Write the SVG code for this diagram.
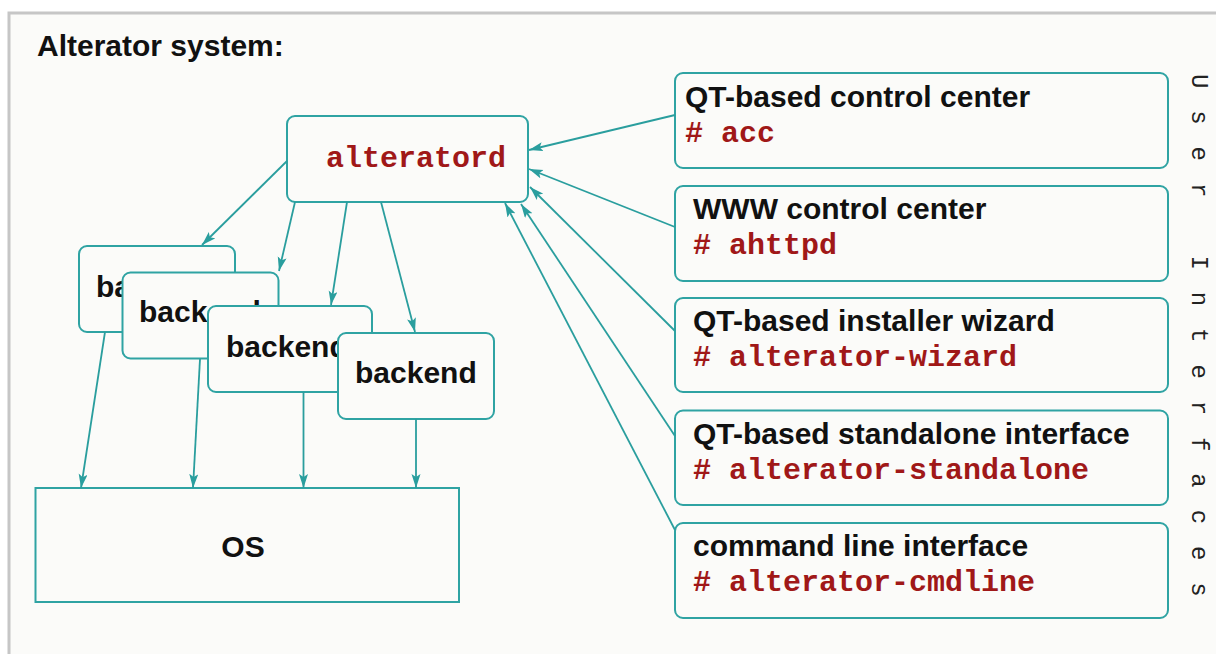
<svg xmlns="http://www.w3.org/2000/svg" width="1216" height="654" viewBox="0 0 1216 654">
<defs>
<style>
.box{fill:#fbfbf9;stroke:#2fa3a3;stroke-width:2}
.lbl{font-family:"Liberation Sans",Arial,sans-serif;font-weight:bold;font-size:30px;fill:#111}
.cmd{font-family:"Liberation Mono","Courier New",monospace;font-weight:bold;font-size:30px;fill:#a01818}
.conn{stroke:#2a9e9e;stroke-width:1.8;fill:none;marker-end:url(#ah)}
</style>
<marker id="ah" markerUnits="userSpaceOnUse" markerWidth="15" markerHeight="10" refX="14" refY="4.5" orient="auto">
<path d="M0,0 L14,4.5 L0,9 L3,4.5 z" fill="#2a9e9e"/>
</marker>
</defs>
<rect x="0" y="0" width="1216" height="654" fill="#ffffff"/>
<rect x="9" y="13" width="1240" height="700" fill="#fbfbf9" stroke="#c6c6c6" stroke-width="3"/>
<text x="37" y="56" class="lbl">Alterator system:</text>

<g id="alteratord">
<rect class="box" x="287" y="116" width="241" height="86" rx="8"/>
<text x="326" y="167" class="cmd">alteratord</text>
</g>
<g id="backend1">
<rect class="box" x="79" y="246" width="156" height="86" rx="8"/>
<text x="96" y="297" class="lbl">backend</text>
</g>
<g id="backend2">
<rect class="box" x="122.5" y="272.5" width="156" height="86" rx="8"/>
<text x="139" y="322" class="lbl">backend</text>
</g>
<g id="backend3">
<rect class="box" x="208" y="306" width="164" height="86" rx="8"/>
<text x="226" y="357" class="lbl">backend</text>
</g>
<g id="backend4">
<rect class="box" x="338" y="333" width="156" height="86" rx="8"/>
<text x="355" y="383" class="lbl">backend</text>
</g>
<g id="os">
<rect class="box" x="35.5" y="488" width="423.5" height="114"/>
<text x="243" y="557" class="lbl" text-anchor="middle">OS</text>
</g>

<g id="ui-acc">
<rect class="box" x="675" y="73" width="493" height="95" rx="8"/>
<text x="685" y="107" class="lbl">QT-based control center</text>
<text x="685" y="142" class="cmd"># acc</text>
</g>
<g id="ui-ahttpd">
<rect class="box" x="675" y="186" width="493" height="95" rx="8"/>
<text x="693" y="219" class="lbl">WWW control center</text>
<text x="693" y="254" class="cmd"># ahttpd</text>
</g>
<g id="ui-wizard">
<rect class="box" x="675" y="298" width="493" height="94" rx="8"/>
<text x="693" y="331" class="lbl">QT-based installer wizard</text>
<text x="693" y="366" class="cmd"># alterator-wizard</text>
</g>
<g id="ui-standalone">
<rect class="box" x="675" y="410.5" width="493" height="94.5" rx="8"/>
<text x="693" y="443.5" class="lbl">QT-based standalone interface</text>
<text x="693" y="478.5" class="cmd"># alterator-standalone</text>
</g>
<g id="ui-cmdline">
<rect class="box" x="675" y="523" width="493" height="95" rx="8"/>
<text x="693" y="556" class="lbl">command line interface</text>
<text x="693" y="591" class="cmd"># alterator-cmdline</text>
</g>

<text transform="translate(1192,74) rotate(90)" font-family="'Liberation Mono','Courier New',monospace" font-size="24" letter-spacing="21.9" fill="#222">User Interfaces</text>

<g id="connectors">
<line class="conn" x1="287" y1="161" x2="202" y2="245"/>
<line class="conn" x1="295" y1="202" x2="279" y2="271"/>
<line class="conn" x1="347" y1="202" x2="331" y2="305"/>
<line class="conn" x1="381" y1="202" x2="415" y2="332"/>
<line class="conn" x1="105" y1="332" x2="81" y2="488"/>
<line class="conn" x1="200" y1="359" x2="193" y2="488"/>
<line class="conn" x1="303.5" y1="392" x2="303.5" y2="488"/>
<line class="conn" x1="416" y1="419" x2="416" y2="488"/>
<line class="conn" x1="675" y1="115" x2="529" y2="150"/>
<line class="conn" x1="675" y1="227" x2="529" y2="169"/>
<line class="conn" x1="675" y1="331" x2="530" y2="187"/>
<line class="conn" x1="675" y1="436" x2="521" y2="204"/>
<line class="conn" x1="675" y1="530" x2="505" y2="203"/>
</g>
</svg>
